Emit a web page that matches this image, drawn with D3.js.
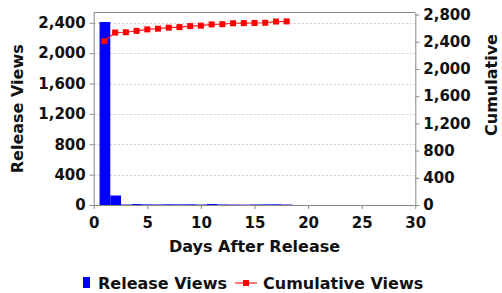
<!DOCTYPE html>
<html>
<head>
<meta charset="utf-8">
<script src="https://cdn.jsdelivr.net/npm/d3@7"></script>
<style>
  body { margin: 0; background: #fff; }
  svg { display: block; font-family: "DejaVu Sans", sans-serif; font-weight: bold; }
</style>
</head>
<body>
<svg></svg>
<script>
var svg = d3.select("svg");
var width = 502;
var height = 293;

// data
var days = [1, 2, 3, 4, 5, 6, 7, 8, 9, 10, 11, 12, 13, 14, 15, 16, 17, 18];
var releaseViews = [2410, 125, 6, 12, 8, 7, 9, 8, 9, 6, 13, 7, 6, 5, 7, 8, 9, 6];
var cumulativeViews = [2410, 2535, 2540, 2560, 2582, 2592, 2607, 2615, 2630, 2636, 2655, 2658, 2672, 2674, 2676, 2679, 2697, 2699];
var xTicks = [0, 5, 10, 15, 20, 25, 30];
var leftTicks = [0, 400, 800, 1200, 1600, 2000, 2400];
var rightTicks = [0, 400, 800, 1200, 1600, 2000, 2400, 2800];

var plotL = 93.7, plotR = 415.3, plotT = 12.5, plotB = 205;
var axisColor = "#888";

svg.attr("width", width).attr("height", height);

var x = d3.scaleLinear().domain([0, 30]).range([plotL, plotR]);
var y = d3.scaleLinear().domain([0, 2535]).range([plotB, plotT]);
var y2 = d3.scaleLinear().domain([0, 2830]).range([plotB, plotT]);
var fmt = d3.format(",");

// gridlines
svg.append("g")
  .selectAll("line")
  .data(leftTicks.slice(1))
  .join("line")
    .attr("x1", plotL).attr("x2", plotR)
    .attr("y1", d => Math.round(y(d)) + 0.5)
    .attr("y2", d => Math.round(y(d)) + 0.5)
    .attr("stroke", "#cfcfcf")
    .attr("stroke-dasharray", "2,2");

// bars
var dayW = x(1) - x(0);
svg.append("g")
  .selectAll("rect")
  .data(days)
  .join("rect")
    .attr("x", (d, i) => x(d) - dayW / 2 + 0.5)
    .attr("width", dayW)
    .attr("y", (d, i) => y(releaseViews[i]))
    .attr("height", (d, i) => plotB - y(releaseViews[i]))
    .attr("fill", "#0000ff");

// frame
svg.append("line")
  .attr("x1", plotL).attr("x2", plotR)
  .attr("y1", plotT).attr("y2", plotT)
  .attr("stroke", axisColor);

// axes
function styleAxis(g) {
  g.selectAll(".domain").attr("stroke", axisColor);
  g.selectAll(".tick line").attr("stroke", axisColor);
  g.selectAll(".tick text")
    .attr("fill", "#111")
    .style("font-family", "DejaVu Sans")
    .style("font-weight", "bold")
    .style("font-size", "15px");
}

svg.append("g")
  .attr("transform", "translate(0," + plotB + ")")
  .call(d3.axisBottom(x).tickValues(xTicks).tickSize(4).tickSizeOuter(0).tickPadding(8))
  .call(styleAxis);

svg.append("g")
  .attr("transform", "translate(" + plotL + ",0)")
  .call(d3.axisLeft(y).tickValues(leftTicks).tickFormat(fmt).tickSize(4).tickSizeOuter(0).tickPadding(4))
  .call(styleAxis);

svg.append("g")
  .attr("transform", "translate(" + plotR + ",0)")
  .call(d3.axisRight(y2).tickValues(rightTicks).tickFormat(fmt).tickSize(4).tickSizeOuter(0).tickPadding(4))
  .call(styleAxis);

// cumulative line
var line = d3.line()
  .x((d, i) => x(days[i]))
  .y(d => y2(d));

svg.append("path")
  .attr("fill", "none")
  .attr("stroke", "#ff2020")
  .attr("stroke-width", 1.2)
  .attr("d", line(cumulativeViews));

svg.append("g")
  .selectAll("rect")
  .data(cumulativeViews)
  .join("rect")
    .attr("x", (d, i) => x(days[i]) - 3)
    .attr("y", d => y2(d) - 3)
    .attr("width", 6)
    .attr("height", 6)
    .attr("fill", "#ff0000");

// axis titles
svg.append("text")
  .attr("transform", "translate(23," + ((plotT + plotB) / 2) + ") rotate(-90)")
  .attr("text-anchor", "middle")
  .attr("font-size", 16)
  .attr("fill", "#111")
  .text("Release Views");

svg.append("text")
  .attr("transform", "translate(497,85) rotate(-90)")
  .attr("text-anchor", "middle")
  .attr("font-size", 16)
  .attr("fill", "#111")
  .text("Cumulative");

svg.append("text")
  .attr("x", (plotL + plotR) / 2)
  .attr("y", 251.5)
  .attr("text-anchor", "middle")
  .attr("font-size", 16)
  .attr("fill", "#111")
  .text("Days After Release");

// legend
var legend = svg.append("g");
legend.append("rect")
  .attr("x", 83).attr("y", 277).attr("width", 7).attr("height", 11)
  .attr("fill", "#0000ff");
legend.append("text")
  .attr("x", 98).attr("y", 288.5)
  .attr("font-size", 16).attr("fill", "#111")
  .text("Release Views");
legend.append("line")
  .attr("x1", 235).attr("x2", 257).attr("y1", 283).attr("y2", 283)
  .attr("stroke", "#ff2020").attr("stroke-width", 1.2);
legend.append("rect")
  .attr("x", 243).attr("y", 280).attr("width", 6).attr("height", 6)
  .attr("fill", "#ff0000");
legend.append("text")
  .attr("x", 263).attr("y", 288.5)
  .attr("font-size", 16).attr("fill", "#111")
  .text("Cumulative Views");
</script>
</body>
</html>
